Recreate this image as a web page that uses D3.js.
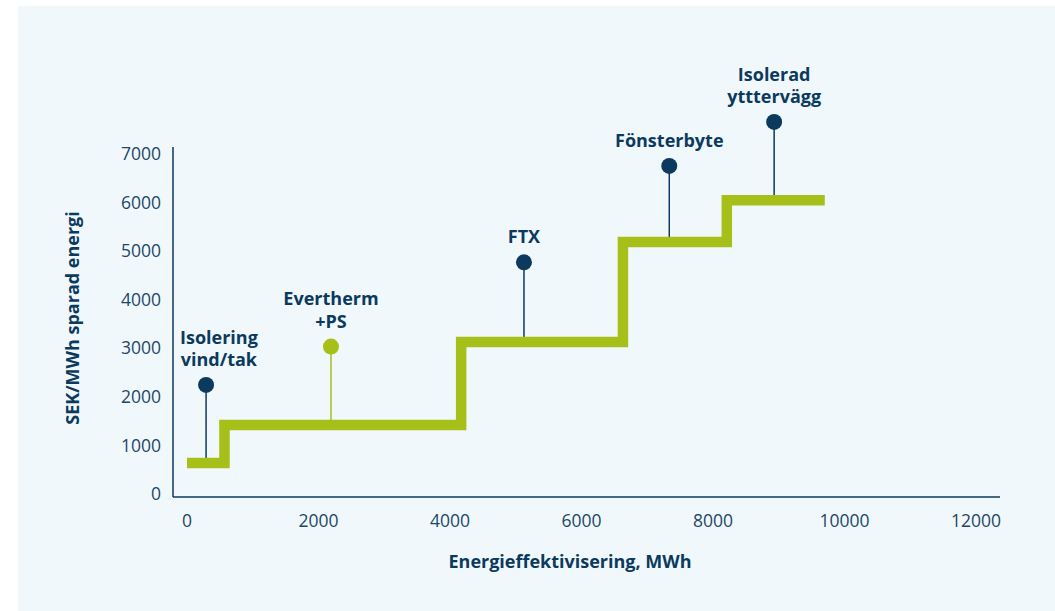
<!DOCTYPE html>
<html>
<head>
<meta charset="utf-8">
<script src="https://cdn.jsdelivr.net/npm/d3@7"></script>
<style>
  html, body { margin: 0; padding: 0; background: #fff; }
  svg { display: block; font-family: "Open Sans", sans-serif; }
</style>
</head>
<body>
<svg id="chart" width="1055" height="611"></svg>
<script>
// step boundaries (MWh) and the level (SEK/MWh) of each step
var stepEdges = [0, 570, 4170, 6630, 8210, 9700];
var stepLevels = [640, 1420, 3130, 5190, 6050];

// measures shown as lollipops
var measureNames = [["Isolering", "vind/tak"], ["Evertherm", "+PS"], ["FTX"], ["Fönsterbyte"], ["Isolerad", "ytttervägg"]];
var measureX = [290, 2190, 5125, 7335, 8930];
var measureY = [2245, 3035, 4770, 6755, 7660];
var measureBase = [640, 1420, 3130, 5190, 6050];
var measureHighlight = [false, true, false, false, false];

var xTicks = [0, 2000, 4000, 6000, 8000, 10000, 12000];
var yTicks = [0, 1000, 2000, 3000, 4000, 5000, 6000, 7000];

var navy = "#0b3a5e", green = "#a6bf19", tickColor = "#1d4769";

var svg = d3.select("#chart");

// background panel
svg.append("rect")
    .attr("x", 18).attr("y", 6)
    .attr("width", 1055 - 18).attr("height", 611 - 6)
    .attr("fill", "#f1f8fb");

var x = d3.scaleLinear().domain([0, 12000]).range([187, 976]);
var y = d3.scaleLinear().domain([0, 7000]).range([494, 154]);

var axisLeft = 173, axisBottom = 497;

// axes lines
svg.append("line")
    .attr("x1", axisLeft).attr("x2", axisLeft)
    .attr("y1", y(7000) - 7).attr("y2", axisBottom)
    .attr("stroke", navy).attr("stroke-width", 1.5);
svg.append("line")
    .attr("x1", axisLeft).attr("x2", x(12000) + 24)
    .attr("y1", axisBottom).attr("y2", axisBottom)
    .attr("stroke", navy).attr("stroke-width", 1.5);

// tick labels
svg.selectAll("text.ytick")
  .data(yTicks)
  .enter().append("text")
    .attr("class", "ytick")
    .attr("x", 161)
    .attr("y", function(d) { return y(d); })
    .attr("dy", "0.35em")
    .attr("text-anchor", "end")
    .attr("font-size", 17.5)
    .attr("fill", tickColor)
    .text(function(d) { return d; });

svg.selectAll("text.xtick")
  .data(xTicks)
  .enter().append("text")
    .attr("class", "xtick")
    .attr("x", function(d) { return x(d); })
    .attr("y", 521)
    .attr("dy", "0.35em")
    .attr("text-anchor", "middle")
    .attr("font-size", 17.5)
    .attr("fill", tickColor)
    .text(function(d) { return d; });

// axis titles
svg.append("text")
    .attr("transform", "translate(79,318) rotate(-90)")
    .attr("text-anchor", "middle")
    .attr("font-size", 18)
    .attr("font-weight", 700)
    .attr("fill", navy)
    .text("SEK/MWh sparad energi");

svg.append("text")
    .attr("x", 570).attr("y", 568)
    .attr("text-anchor", "middle")
    .attr("font-size", 18)
    .attr("font-weight", 700)
    .attr("fill", navy)
    .text("Energieffektivisering, MWh");

var measures = measureNames.map(function(n, i) {
  return { lines: n, x: measureX[i], y: measureY[i], base: measureBase[i], hi: measureHighlight[i] };
});

// stems (behind the step line)
svg.selectAll("line.stem")
  .data(measures)
  .enter().append("line")
    .attr("class", "stem")
    .attr("x1", function(d) { return x(d.x); })
    .attr("x2", function(d) { return x(d.x); })
    .attr("y1", function(d) { return y(d.y); })
    .attr("y2", function(d) { return y(d.base); })
    .attr("stroke", function(d) { return d.hi ? green : navy; })
    .attr("stroke-width", 1.5);

// step line
var pts = [];
stepLevels.forEach(function(v, i) {
  pts.push([stepEdges[i], v]);
  pts.push([stepEdges[i + 1], v]);
});
var line = d3.line()
    .x(function(d) { return x(d[0]); })
    .y(function(d) { return y(d[1]); });
svg.append("path")
    .datum(pts)
    .attr("d", line)
    .attr("fill", "none")
    .attr("stroke", green)
    .attr("stroke-width", 10.5)
    .attr("stroke-linejoin", "miter")
    .attr("stroke-linecap", "butt");

// circles
svg.selectAll("circle.dot")
  .data(measures)
  .enter().append("circle")
    .attr("class", "dot")
    .attr("cx", function(d) { return x(d.x); })
    .attr("cy", function(d) { return y(d.y); })
    .attr("r", 8)
    .attr("fill", function(d) { return d.hi ? green : navy; });

// labels
var labels = svg.selectAll("text.label")
  .data(measures)
  .enter().append("text")
    .attr("class", "label")
    .attr("text-anchor", "middle")
    .attr("font-size", 18)
    .attr("font-weight", 700)
    .attr("fill", navy);

labels.each(function(d) {
  var t = d3.select(this);
  var n = d.lines.length;
  d.lines.forEach(function(s, j) {
    t.append("tspan")
      .attr("x", x(d.x))
      .attr("y", y(d.y) - 19 - (n - 1 - j) * 22.3)
      .text(s);
  });
  // keep labels clear of the y axis
  var b = this.getBBox();
  var minLeft = axisLeft + 7;
  if (b.x < minLeft) t.attr("transform", "translate(" + (minLeft - b.x) + ",0)");
});
</script>
</body>
</html>
